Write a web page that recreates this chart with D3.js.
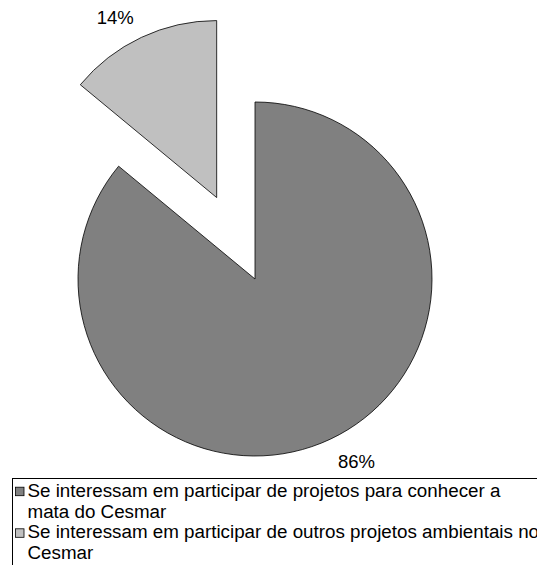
<!DOCTYPE html>
<html>
<head>
<meta charset="utf-8">
<script src="https://cdn.jsdelivr.net/npm/d3@7"></script>
<style>
  body { margin: 0; background: #fff; }
  svg { display: block; font-family: Arial, "Liberation Sans", sans-serif; }
</style>
</head>
<body>
<div class="chart"></div>
<script>
const w = 537;
const h = 565;

// data
const categories = [
  'Se interessam em participar de projetos para conhecer a\nmata do Cesmar',
  'Se interessam em participar de outros projetos ambientais no\nCesmar'
];
const values = [86, 14];
const labels = ['86%', '14%'];
const colors = ['#808080', '#c0c0c0'];
const exploded = [false, true];

const cx = 255;
const cy = 279;
const r = 177;
const explodeBy = 90;

const svg = d3.select('.chart')
  .append('svg')
  .attr('width', w)
  .attr('height', h);

svg.append('rect')
  .attr('width', w)
  .attr('height', h)
  .attr('fill', '#fff');

const pie = d3.pie().sort(null).value(d => d);
const arcs = pie(values);
const arc = d3.arc().innerRadius(0).outerRadius(r);

const g = svg.append('g')
  .attr('transform', 'translate(' + cx + ',' + cy + ')');

const slices = g.selectAll('g.slice')
  .data(arcs)
  .enter()
  .append('g')
  .attr('class', 'slice')
  .attr('transform', function (d, i) {
    if (!exploded[i]) return null;
    const mid = (d.startAngle + d.endAngle) / 2;
    return 'translate(' + (Math.sin(mid) * explodeBy) + ',' + (-Math.cos(mid) * explodeBy) + ')';
  });

slices.append('path')
  .attr('d', arc)
  .attr('fill', (d, i) => colors[i])
  .attr('stroke', '#000')
  .attr('stroke-width', 0.8)
  .attr('stroke-linejoin', 'miter');

// labels outside the slice, nearest corner on radius r + 18
slices.append('text')
  .each(function (d, i) {
    const mid = (d.startAngle + d.endAngle) / 2;
    const dx = Math.sin(mid);
    const dy = -Math.cos(mid);
    const ax = dx * (r + 18);
    const ay = dy * (r + 18);
    d3.select(this)
      .attr('x', ax)
      .attr('y', dy > 0 ? ay + 13 : ay + 3)
      .attr('text-anchor', dx > 0 ? 'start' : 'end');
  })
  .attr('font-size', '18.5px')
  .attr('fill', '#000')
  .text((d, i) => labels[i]);

// legend (box runs off the right and bottom edge, as in the picture)
const legend = svg.append('g');

legend.append('rect')
  .attr('x', 12.5)
  .attr('y', 478.5)
  .attr('width', 600)
  .attr('height', 120)
  .attr('fill', '#fff')
  .attr('stroke', '#000')
  .attr('stroke-width', 1);

const lineH = 20.8;
let line = 0;
categories.forEach(function (c, i) {
  const rows = c.split('\n');
  const baseY = 496.7 + line * lineH;
  legend.append('rect')
    .attr('x', 15.5)
    .attr('y', baseY - 9.5)
    .attr('width', 8.5)
    .attr('height', 8.5)
    .attr('fill', colors[i])
    .attr('stroke', '#000')
    .attr('stroke-width', 0.8);
  const t = legend.append('text')
    .attr('font-size', '18.8px')
    .attr('fill', '#000');
  rows.forEach(function (row, k) {
    t.append('tspan')
      .attr('x', 27.5)
      .attr('y', baseY + k * lineH)
      .text(row);
  });
  line += rows.length;
});
</script>
</body>
</html>
